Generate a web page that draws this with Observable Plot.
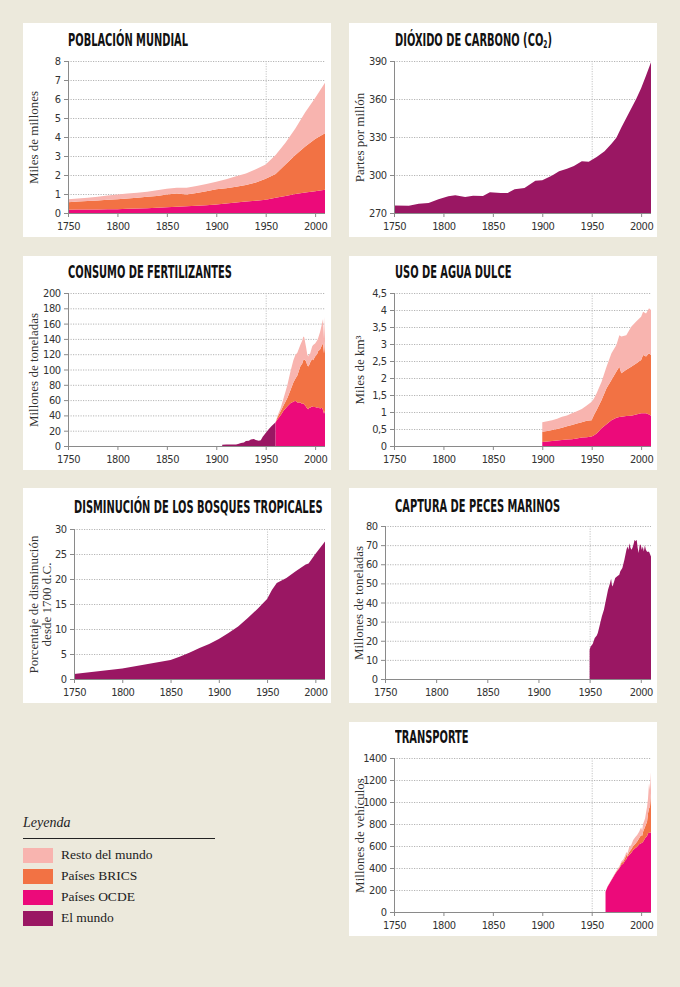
<!DOCTYPE html>
<html>
<head>
<meta charset="utf-8">
<script src="https://cdn.jsdelivr.net/npm/d3@7"></script>
<script src="https://cdn.jsdelivr.net/npm/@observablehq/plot@0.6"></script>
<style>
  html, body { margin: 0; padding: 0; background: #ECE9DC; }
  #page { position: relative; width: 680px; height: 987px; background: #ECE9DC; overflow: hidden; }
  .box { position: absolute; background: #fff; }
  .box svg { position: absolute; left: 0; }
  .box svg [aria-label$="tick label"] { letter-spacing: -0.5px; }
  .title { position: absolute; white-space: nowrap; font-family: "DejaVu Sans Condensed", "DejaVu Sans", sans-serif; font-weight: bold; font-stretch: condensed; font-size: 18px; line-height: 18px; color: #111; transform-origin: 0 50%; transform: scaleX(0.61); }
  .title sub { font-size: 60%; vertical-align: -2px; line-height: 0; }
  #legend { position: absolute; left: 23px; top: 812px; width: 192px; font-family: "Liberation Serif", "DejaVu Serif", serif; color: #222; }
  #legend .head { font-style: italic; font-size: 14px; height: 26px; line-height: 22px; border-bottom: 1.8px solid #222; }
  #legend .row { position: relative; height: 21px; }
  #legend .sw { position: absolute; left: 0; top: 0; width: 30px; height: 15px; }
  #legend .lab { position: absolute; left: 38px; top: -1px; font-size: 13.5px; line-height: 16px; white-space: nowrap; }
</style>
</head>
<body>
<div id="page"></div>
<script>
// ---------- Data ----------
const xTicks = [1750, 1800, 1850, 1900, 1950, 2000];
const seriesNames = ["Países OCDE", "Países BRICS", "Resto del mundo", "El mundo"];
const seriesColors = ["#EC0A7A", "#F27244", "#F8B4AF", "#9A1763"];

// Población mundial (miles de millones)
const popYears = [1750,1760,1770,1780,1790,1800,1810,1820,1830,1840,1850,1860,1870,1880,1890,1900,1910,1920,1930,1940,1950,1960,1970,1980,1990,2000,2010];
const popOCDE  = [.17,.18,.18,.19,.2,.2,.22,.24,.25,.27,.3,.33,.35,.38,.41,.45,.5,.55,.6,.65,.7,.8,.9,1.0,1.08,1.15,1.23];
const popBRICS = [.39,.42,.45,.47,.5,.53,.54,.56,.6,.63,.67,.69,.63,.67,.74,.8,.8,.83,.88,.95,1.1,1.25,1.65,2.05,2.42,2.75,2.97];
const popResto = [.17,.16,.17,.19,.22,.25,.27,.27,.27,.3,.31,.31,.35,.37,.38,.4,.48,.55,.6,.7,.75,1.0,1.15,1.4,1.8,2.15,2.65];

// Dióxido de carbono (ppm)
const co2Years = [1750,1765,1775,1785,1795,1805,1812,1822,1830,1840,1847,1858,1865,1872,1882,1893,1900,1910,1917,1925,1932,1940,1947,1955,1963,1970,1975,1980,1985,1990,1995,2000,2005,2010];
const co2Values = [276,275.8,277.4,277.9,280.8,283.2,284,282.6,283.7,283.4,286.3,285.8,285.8,288.7,289.7,295.5,295.8,299.7,302.9,305,307.1,310.8,310.5,314.2,318.7,324.7,329.5,337.5,345,352.5,360,368.5,378.5,389];

// Consumo de fertilizantes (millones de toneladas)
const fertWorldYears = [1906,1910,1915,1920,1922,1925,1928,1930,1933,1935,1938,1940,1943,1945,1947,1950,1953,1956,1960];
const fertWorld = [1.5,2,2,2,2.5,4,4.5,6.5,7,8.5,9,8,7,7.5,12,17,22,26,31];
const fertYears = [1960,1962,1965,1968,1970,1972,1975,1978,1980,1982,1985,1987,1988,1989,1990,1991,1992,1993,1994,1995,1997,1998,2000,2002,2003,2005,2007,2008,2009,2010];
const fertOCDE  = [31,35,40,46,49,52,56,58,59,57,57,55,56,54,53,51,49,48,50,50,52,51,51,50,51,49,50,47,42,46];
const fertBRICS = [0,3,5,7,9,11,17,25,29,35,47,53,56,59,59,59,57,56,56,59,62,61,66,70,73,77,82,87,79,91];
const fertResto = [0,2,4,9,13,17,24,29,31,30,28,30,31,29,23,18,14,13,14,12,16,20,17,18,17,23,28,32,19,32];

// Uso de agua dulce (miles de km³)
const waterYears = [1900,1905,1910,1915,1920,1925,1930,1935,1940,1945,1950,1952,1955,1960,1965,1970,1975,1978,1980,1985,1990,1995,2000,2002,2005,2008,2010];
const waterOCDE  = [.12,.13,.15,.16,.18,.19,.2,.22,.25,.26,.28,.31,.37,.52,.64,.76,.83,.85,.86,.88,.89,.93,.96,.96,.96,.93,.89];
const waterBRICS = [.30,.31,.32,.34,.36,.39,.42,.44,.45,.48,.48,.59,.69,.83,1.06,1.18,1.36,1.48,1.28,1.36,1.44,1.5,1.57,1.72,1.67,1.8,1.79];
const waterResto = [.28,.29,.29,.3,.32,.32,.34,.36,.39,.45,.54,.48,.49,.54,.63,.79,.78,.93,1.08,1.02,1.18,1.23,1.27,1.27,1.27,1.32,1.32];

// Disminución de los bosques tropicales (% desde 1700)
const forestYears = [1750,1800,1850,1860,1870,1880,1890,1900,1910,1920,1930,1940,1950,1955,1960,1970,1980,1990,1993,2000,2010];
const forestValues = [1.0,2.1,3.8,4.5,5.3,6.2,7.0,8.0,9.2,10.5,12.2,14.0,16.0,17.8,19.2,20.2,21.6,22.9,23.1,25.0,27.5];

// Captura de peces marinos (millones de toneladas)
const fishYears = [1950,1951,1953,1955,1957,1958,1960,1962,1964,1966,1968,1970,1971,1972,1973,1975,1977,1979,1980,1982,1984,1985,1986,1987,1988,1989,1990,1991,1992,1993,1994,1995,1996,1997,1998,1999,2000,2001,2002,2003,2004,2005,2006,2007,2008,2009,2010];
const fishValues = [15.3,17,18.3,21.4,22.8,24,28.4,32.8,36.2,41.5,46.7,50.2,52.4,48.4,49.3,52.8,53.7,54.5,56.3,58,62.4,65,67.6,69.3,67.6,71,68.5,67.6,68.8,70.6,72.8,72,72.8,68.5,65.9,70.2,70.2,67.6,69.3,66.7,69.9,67.6,66.7,66.4,66.7,65.3,64.1];

// Transporte (millones de vehículos)
const transYears = [1964,1966,1968,1970,1972,1974,1976,1978,1980,1982,1984,1985,1986,1988,1990,1992,1994,1996,1998,2000,2001,2002,2004,2006,2007,2008,2009,2010];
const transOCDE  = [185,230,260,290,320,350,375,397,427,440,470,480,500,518,539,564,579,594,615,624,630,639,670,691,715,721,721,725];
const transBRICS = [0,0,1,2,3,4,6,8,18,20,25,40,10,27,31,36,39,46,55,76,60,91,106,130,182,221,239,355];
const transResto = [0,2,3,4,5,6,7,10,13,18,20,25,20,45,39,55,61,60,60,70,50,70,75,136,136,228,150,190];

// ---------- Helpers ----------
function rows(years, list) {
  const out = [];
  for (const [series, vals] of list) years.forEach((year, i) => out.push({year, value: vals[i], series}));
  return out;
}
const fmtComma = d => String(d).replace(".", ",");

const panels = [
  {title: "POBLACIÓN MUNDIAL", left: 23, top: 23, h: 214, tx: 45, tb: 23, mL: 45, mT: 10,
   yDomain: [0, 8], yTicks: d3.range(0, 9), label: "Miles de millones", ldx: -35,
   stack: rows(popYears, [["Países OCDE", popOCDE], ["Países BRICS", popBRICS], ["Resto del mundo", popResto]])},
  {title: "DIÓXIDO DE CARBONO (CO<sub>2</sub>)", left: 349, top: 23, h: 214, tx: 46, tb: 23, mL: 45, mT: 10,
   yDomain: [270, 390], yTicks: [270, 300, 330, 360, 390], label: "Partes por millón", ldx: -35,
   world: rows(co2Years, [["El mundo", co2Values]])},
  {title: "CONSUMO DE FERTILIZANTES", left: 23, top: 256, h: 214, tx: 45, tb: 22.5, mL: 45, mT: 9,
   yDomain: [0, 200], yTicks: d3.range(0, 201, 20), label: "Millones de toneladas", ldx: -35,
   world: rows(fertWorldYears, [["El mundo", fertWorld]]),
   stack: rows(fertYears, [["Países OCDE", fertOCDE], ["Países BRICS", fertBRICS], ["Resto del mundo", fertResto]])},
  {title: "USO DE AGUA DULCE", left: 349, top: 256, h: 214, tx: 46, tb: 22.5, mL: 45, mT: 9,
   yDomain: [0, 4.5], yTicks: d3.range(0, 4.51, 0.5), fmt: fmtComma, label: "Miles de km³", ldx: -35,
   stack: rows(waterYears, [["Países OCDE", waterOCDE], ["Países BRICS", waterBRICS], ["Resto del mundo", waterResto]])},
  {title: "DISMINUCIÓN DE LOS BOSQUES TROPICALES", left: 23, top: 488, h: 215, tx: 51, tb: 25.3, mL: 51, mT: 13,
   yDomain: [0, 30], yTicks: d3.range(0, 31, 5), label: "Porcentaje de disminución\ndesde 1700 d.C.", ldx: -34.5,
   world: rows(forestYears, [["El mundo", forestValues]])},
  {title: "CAPTURA DE PECES MARINOS", left: 349, top: 488, h: 215, tx: 46, tb: 23.7, mL: 36, mT: 10,
   yDomain: [0, 80], yTicks: d3.range(0, 81, 10), label: "Millones de toneladas", ldx: -27,
   world: rows(fishYears, [["El mundo", fishValues]])},
  {title: "TRANSPORTE", left: 349, top: 722, h: 214, tx: 46, tb: 21.6, mL: 45, mT: 8,
   yDomain: [0, 1400], yTicks: d3.range(0, 1401, 200), label: "Millones de vehículos", ldx: -35,
   stack: rows(transYears, [["Países OCDE", transOCDE], ["Países BRICS", transBRICS], ["Resto del mundo", transResto]])}
];

const page = document.getElementById("page");
const W = 308, SVG_TOP = 28;

for (const p of panels) {
  const box = document.createElement("div");
  box.className = "box";
  Object.assign(box.style, {left: p.left + "px", top: p.top + "px", width: W + "px", height: p.h + "px"});
  const t = document.createElement("div");
  t.className = "title";
  t.innerHTML = p.title;
  Object.assign(t.style, {left: p.tx + "px", top: (p.tb - 15.2) + "px"});
  box.appendChild(t);

  const marks = [
    Plot.ruleY(p.yTicks, {stroke: "#b5b5b5", strokeDasharray: "1.2,1.3"}),
    Plot.ruleX([1950], {stroke: "#c4c4c4", strokeDasharray: "1.2,1.3"})
  ];
  if (p.world) marks.push(Plot.areaY(p.world, {x: "year", y1: p.yDomain[0], y2: "value", fill: "series", curve: "linear"}));
  if (p.stack) marks.push(Plot.areaY(p.stack, {x: "year", y: "value", fill: "series", curve: "linear"}));
  marks.push(
    Plot.ruleY([p.yDomain[0]], {stroke: "#8a8a8a"}),
    Plot.ruleX([1750], {stroke: "#8a8a8a"}),
    Plot.axisX(xTicks, {tickSize: 4, tickPadding: 5, stroke: "#8a8a8a", fill: "#333", tickFormat: d => String(d), label: null}),
    Plot.axisY(p.yTicks, {tickSize: 4, tickPadding: 4, stroke: "#8a8a8a", fill: "#333", tickFormat: p.fmt || (d => String(d)), label: null}),
    Plot.text([p.label], {text: d => d, frameAnchor: "left", textAnchor: "middle", lineAnchor: "middle", rotate: -90, dx: p.ldx, fontFamily: "'Liberation Serif', 'DejaVu Serif', serif", fontSize: 13, fill: "#333", lineHeight: 1.03})
  );

  const svg = Plot.plot({
    width: W,
    height: p.h - SVG_TOP,
    marginLeft: p.mL, marginRight: 6, marginTop: p.mT, marginBottom: 24,
    style: {background: "transparent", fontFamily: "'DejaVu Sans Condensed', 'DejaVu Sans', sans-serif", fontSize: "11px", color: "#333", overflow: "visible"},
    x: {domain: [1750, 2010]},
    y: {domain: p.yDomain},
    color: {domain: seriesNames, range: seriesColors},
    marks
  });
  svg.style.top = SVG_TOP + "px";
  box.appendChild(svg);
  page.appendChild(box);
}

// ---------- Legend ----------
const legendItems = ["Resto del mundo", "Países BRICS", "Países OCDE", "El mundo"];
const legend = document.createElement("div");
legend.id = "legend";
let html = '<div class="head">Leyenda</div><div style="height:9px"></div>';
for (const name of legendItems) {
  const c = seriesColors[seriesNames.indexOf(name)];
  html += `<div class="row"><div class="sw" style="background:${c}"></div><div class="lab">${name}</div></div>`;
}
legend.innerHTML = html;
page.appendChild(legend);
</script>
</body>
</html>
